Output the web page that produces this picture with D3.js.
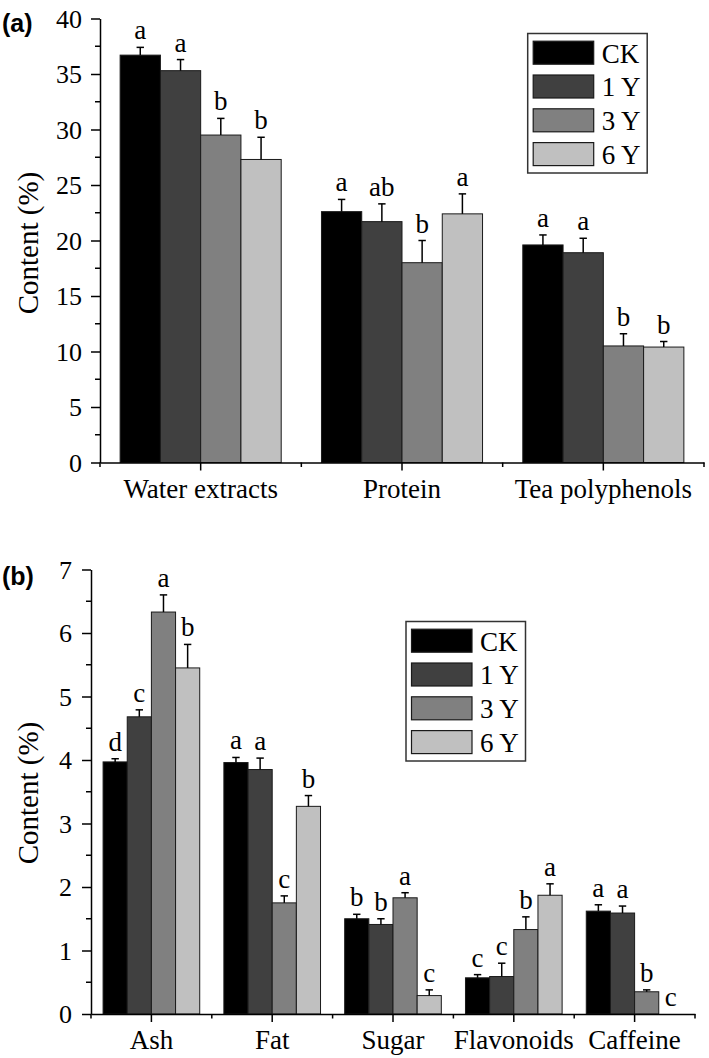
<!DOCTYPE html>
<html>
<head>
<meta charset="utf-8">
<script src="https://cdn.jsdelivr.net/npm/d3@7/dist/d3.min.js"></script>
<style>
  html, body { margin: 0; padding: 0; background: #fff; }
  svg { display: block; }
  text { font-family: "Liberation Serif", "Times New Roman", serif; fill: #000; }
</style>
</head>
<body>
<svg id="chart" width="709" height="1058"></svg>
<script>
// ---------- DATA ----------
const series = ["CK", "1 Y", "3 Y", "6 Y"];
const seriesColors = ["#000000", "#404040", "#808080", "#c0c0c0"];

// Panel (a)
const catsA = ["Water extracts", "Protein", "Tea polyphenols"];
const valsA_CK = [36.7, 22.6, 19.6];
const valsA_1Y = [35.3, 21.7, 18.9];
const valsA_3Y = [29.5, 18.0, 10.5];
const valsA_6Y = [27.3, 22.4, 10.4];
const errA_CK = [0.7, 1.1, 0.9];
const errA_1Y = [1.0, 1.6, 1.3];
const errA_3Y = [1.5, 2.0, 1.1];
const errA_6Y = [2.0, 1.8, 0.5];
const letA_CK = ["a", "a", "a"];
const letA_1Y = ["a", "ab", "a"];
const letA_3Y = ["b", "b", "b"];
const letA_6Y = ["b", "a", "b"];
const ticksA = [0, 5, 10, 15, 20, 25, 30, 35, 40];

// Panel (b)
const catsB = ["Ash", "Fat", "Sugar", "Flavonoids", "Caffeine"];
const valsB_CK = [3.97, 3.96, 1.50, 0.57, 1.62];
const valsB_1Y = [4.68, 3.85, 1.41, 0.59, 1.59];
const valsB_3Y = [6.33, 1.75, 1.83, 1.33, 0.35];
const valsB_6Y = [5.45, 3.27, 0.29, 1.87, 0.0];
const errB_CK = [0.05, 0.08, 0.07, 0.05, 0.10];
const errB_1Y = [0.11, 0.18, 0.09, 0.21, 0.11];
const errB_3Y = [0.27, 0.11, 0.08, 0.20, 0.03];
const errB_6Y = [0.37, 0.17, 0.09, 0.18, 0.0];
const letB_CK = ["d", "a", "b", "c", "a"];
const letB_1Y = ["c", "a", "b", "c", "a"];
const letB_3Y = ["a", "c", "a", "b", "b"];
const letB_6Y = ["b", "b", "c", "a", "c"];
const ticksB = [0, 1, 2, 3, 4, 5, 6, 7];

// ---------- DRAWING ----------
const SERIF = '"Liberation Serif", "Times New Roman", Times, serif';
const svg = d3.select("#chart");

function panel(cfg) {
  const g = svg.append("g");
  const x = d3.scaleBand().domain(cfg.cats).range([cfg.x0, cfg.x1]).paddingInner(0).paddingOuter(0);
  const bw = x.bandwidth();
  const xs = d3.scaleBand().domain(series).range([bw * 0.1, bw * 0.9]).padding(0);
  const y = d3.scaleLinear().domain(cfg.domain).range([cfg.y0, cfg.y1]);

  const rows = [];
  cfg.cats.forEach((c, i) => {
    series.forEach((s, j) => {
      rows.push({ cat: c, s: s, j: j, v: cfg.vals[j][i], e: cfg.errs[j][i], l: cfg.lets[j][i] });
    });
  });

  // bars
  g.selectAll("rect.bar").data(rows).enter().append("rect")
    .attr("class", "bar")
    .attr("x", d => x(d.cat) + xs(d.s))
    .attr("width", xs.bandwidth())
    .attr("y", d => y(d.v))
    .attr("height", d => y(0) - y(d.v))
    .attr("fill", d => seriesColors[d.j])
    .attr("stroke", d => d.v > 0 ? "#1a1a1a" : "none")
    .attr("stroke-width", 1);

  // error bars (upper only)
  const eb = g.selectAll("g.err").data(rows.filter(d => d.e > 0)).enter().append("g").attr("class", "err");
  eb.append("line")
    .attr("x1", d => x(d.cat) + xs(d.s) + xs.bandwidth() / 2)
    .attr("x2", d => x(d.cat) + xs(d.s) + xs.bandwidth() / 2)
    .attr("y1", d => y(d.v))
    .attr("y2", d => y(d.v + d.e))
    .attr("stroke", "#000").attr("stroke-width", 1.5);
  eb.append("line")
    .attr("x1", d => x(d.cat) + xs(d.s) + xs.bandwidth() / 2 - 3.7)
    .attr("x2", d => x(d.cat) + xs(d.s) + xs.bandwidth() / 2 + 3.7)
    .attr("y1", d => y(d.v + d.e))
    .attr("y2", d => y(d.v + d.e))
    .attr("stroke", "#000").attr("stroke-width", 1.5);

  // significance letters
  g.selectAll("text.let").data(rows).enter().append("text")
    .attr("class", "let")
    .attr("x", d => x(d.cat) + xs(d.s) + xs.bandwidth() / 2)
    .attr("y", d => y(d.v + d.e) - 8)
    .attr("text-anchor", "middle")
    .attr("font-family", SERIF)
    .style("font-size", "27px")
    .text(d => d.l);

  // y axis
  const yAxis = d3.axisLeft(y).tickValues(cfg.ticks).tickSize(9).tickSizeOuter(0).tickPadding(cfg.tickPad)
    .tickFormat(d3.format("d"));
  const ya = g.append("g").attr("transform", `translate(${cfg.x0},0)`).call(yAxis)
    .attr("font-family", SERIF).attr("font-size", 26);
  ya.select(".domain").attr("stroke", "#000").attr("stroke-width", 1.5);
  ya.selectAll(".tick line").attr("stroke", "#000").attr("stroke-width", 1.5);
  ya.selectAll(".tick text").attr("dy", "0.34em").attr("fill", "#000");
  // minor ticks
  const minor = [];
  for (let k = 0; k < cfg.ticks.length - 1; k++) minor.push((cfg.ticks[k] + cfg.ticks[k + 1]) / 2);
  ya.selectAll("line.minor").data(minor).enter().append("line")
    .attr("class", "minor")
    .attr("x1", 0).attr("x2", -5)
    .attr("y1", d => y(d)).attr("y2", d => y(d))
    .attr("stroke", "#000").attr("stroke-width", 1.5);

  // x axis
  const xAxis = d3.axisBottom(x).tickSize(8).tickSizeOuter(0);
  const xa = g.append("g").attr("transform", `translate(0,${cfg.y0})`).call(xAxis)
    .attr("font-family", SERIF).attr("font-size", 27);
  xa.select(".domain").attr("stroke", "#000").attr("stroke-width", 1.5);
  xa.selectAll(".tick line").attr("stroke", "#000").attr("stroke-width", 1.5);
  xa.selectAll(".tick text").attr("y", cfg.catBase).attr("dy", 0).attr("fill", "#000");
  const bounds = cfg.cats.map(c => x(c)).concat([cfg.x1]);
  xa.selectAll("line.bnd").data(bounds).enter().append("line")
    .attr("class", "bnd")
    .attr("x1", d => d).attr("x2", d => d)
    .attr("y1", 0).attr("y2", 4.5)
    .attr("stroke", "#000").attr("stroke-width", 1.5);

  // y title
  g.append("text")
    .attr("transform", `translate(38,${cfg.titleY}) rotate(-90)`)
    .attr("text-anchor", "middle")
    .attr("font-family", SERIF)
    .style("font-size", "29px")
    .text("Content (%)");

  // panel label
  g.append("text")
    .attr("x", 2).attr("y", cfg.labelY)
    .style("font-family", '"Liberation Sans", Arial, sans-serif')
    .style("font-weight", "bold")
    .style("font-size", "25px")
    .text(cfg.label);

  // legend
  const lg = g.append("g").attr("transform", `translate(${cfg.legX},${cfg.legY})`);
  lg.append("rect").attr("x", 0).attr("y", 0).attr("width", 119.5).attr("height", 139.5)
    .attr("fill", "#fff").attr("stroke", "#333").attr("stroke-width", 1.5);
  const items = lg.selectAll("g.item").data(series).enter().append("g")
    .attr("transform", (d, i) => `translate(5.5,${7.7 + i * 33.8})`);
  items.append("rect").attr("width", 60.5).attr("height", 23)
    .attr("fill", (d, i) => seriesColors[i]).attr("stroke", "#1a1a1a").attr("stroke-width", 1.2);
  items.append("text").attr("x", 68.5).attr("y", 21.3)
    .attr("font-family", SERIF)
    .style("font-size", "27px")
    .text(d => d);
}

panel({
  cats: catsA, vals: [valsA_CK, valsA_1Y, valsA_3Y, valsA_6Y],
  errs: [errA_CK, errA_1Y, errA_3Y, errA_6Y],
  lets: [letA_CK, letA_1Y, letA_3Y, letA_6Y],
  ticks: ticksA, domain: [0, 40],
  x0: 100, x1: 704, y0: 462.5, y1: 18.5, tickPad: 9,
  catBase: 35.5, titleY: 243, label: "(a)", labelY: 32,
  legX: 527.7, legY: 33.5
});

panel({
  cats: catsB, vals: [valsB_CK, valsB_1Y, valsB_3Y, valsB_6Y],
  errs: [errB_CK, errB_1Y, errB_3Y, errB_6Y],
  lets: [letB_CK, letB_1Y, letB_3Y, letB_6Y],
  ticks: ticksB, domain: [0, 7],
  x0: 91, x1: 695, y0: 1014, y1: 569.5, tickPad: 10,
  catBase: 35, titleY: 793, label: "(b)", labelY: 585,
  legX: 406, legY: 621.5
});
</script>
</body>
</html>
